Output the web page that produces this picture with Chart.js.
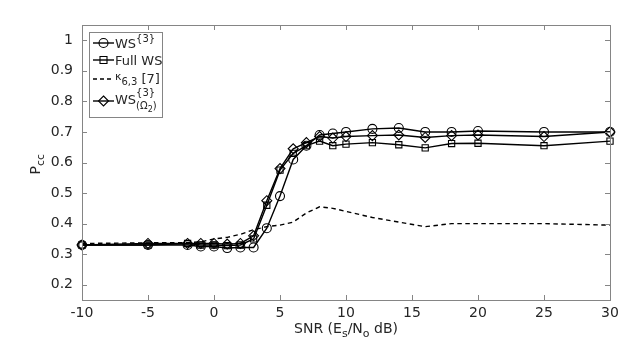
<!DOCTYPE html>
<html>
<head>
<meta charset="utf-8">
<script src="https://cdn.jsdelivr.net/npm/chart.js@4"></script>
<style>html,body{margin:0;background:#fff;}</style>
</head>
<body>
<canvas id="chart" width="638" height="344"></canvas>
<script>
const snr = [-10, -5, -2, -1, 0, 1, 2, 3, 4, 5, 6, 7, 8, 9, 10, 12, 14, 16, 18, 20, 25, 30];
const ws3 = [0.330, 0.330, 0.330, 0.325, 0.325, 0.320, 0.322, 0.322, 0.385, 0.490, 0.610, 0.655, 0.690, 0.695, 0.700, 0.710, 0.713, 0.700, 0.700, 0.703, 0.700, 0.700];
const fullWs = [0.330, 0.330, 0.335, 0.330, 0.330, 0.328, 0.330, 0.350, 0.460, 0.575, 0.630, 0.655, 0.670, 0.655, 0.660, 0.665, 0.658, 0.648, 0.662, 0.663, 0.655, 0.670];
const kappa = [0.335, 0.337, 0.338, 0.340, 0.350, 0.355, 0.365, 0.380, 0.390, 0.395, 0.405, 0.435, 0.455, 0.450, 0.440, 0.420, 0.405, 0.390, 0.400, 0.400, 0.400, 0.395];
const wsOmega = [0.330, 0.335, 0.335, 0.335, 0.335, 0.333, 0.335, 0.360, 0.475, 0.580, 0.645, 0.665, 0.685, 0.680, 0.685, 0.688, 0.690, 0.682, 0.688, 0.690, 0.685, 0.700];

const xTicks = [-10, -5, 0, 5, 10, 15, 20, 25, 30];
const yTicks = [0.2, 0.3, 0.4, 0.5, 0.6, 0.7, 0.8, 0.9, 1];

const FONT = '"DejaVu Sans", sans-serif';
const TXT = '#262626';
const AXIS = '#858585';

const pts = vals => vals.map((v, i) => ({ x: snr[i], y: v }));

function series(data, style) {
  return Object.assign({
    data: pts(data),
    borderColor: '#000',
    borderWidth: 1.4,
    backgroundColor: 'rgba(0,0,0,0)',
    pointBorderColor: '#000',
    pointBorderWidth: 1.1,
    pointBackgroundColor: 'rgba(0,0,0,0)',
    tension: 0,
    clip: false
  }, style);
}

// draws text pieces with sizes and vertical offsets, returns end x
function rich(ctx, x, y, parts) {
  ctx.textBaseline = 'alphabetic';
  ctx.textAlign = 'left';
  let start = x;
  for (const p of parts) {
    if (p.back) x = start;
    if (p.mark) start = x;
    ctx.font = (p.s || 13) + 'px ' + FONT;
    ctx.fillText(p.t, x, y + (p.dy || 0));
    x += ctx.measureText(p.t).width;
  }
  return x;
}

function marker(ctx, type, x, y) {
  ctx.beginPath();
  if (type === 'circle') ctx.arc(x, y, 4.5, 0, Math.PI * 2);
  if (type === 'rect') ctx.rect(x - 3.5, y - 3.5, 7, 7);
  if (type === 'rectRot') {
    ctx.moveTo(x, y - 5); ctx.lineTo(x + 5, y); ctx.lineTo(x, y + 5); ctx.lineTo(x - 5, y); ctx.closePath();
  }
  ctx.stroke();
}

const frame = {
  id: 'frame',
  afterDraw(chart) {
    const { ctx, chartArea: a, scales } = chart;
    ctx.save();
    // box and inward ticks
    ctx.strokeStyle = AXIS;
    ctx.lineWidth = 1;
    ctx.strokeRect(Math.round(a.left) + 0.5, Math.round(a.top) + 0.5, Math.round(a.right - a.left), Math.round(a.bottom - a.top));
    ctx.beginPath();
    for (const v of xTicks) {
      const px = Math.round(scales.x.getPixelForValue(v)) + 0.5;
      ctx.moveTo(px, a.bottom); ctx.lineTo(px, a.bottom - 5);
      ctx.moveTo(px, a.top); ctx.lineTo(px, a.top + 5);
    }
    for (const v of yTicks) {
      const py = Math.round(scales.y.getPixelForValue(v)) + 0.5;
      ctx.moveTo(a.left, py); ctx.lineTo(a.left + 5, py);
      ctx.moveTo(a.right, py); ctx.lineTo(a.right - 5, py);
    }
    ctx.stroke();

    // axis titles
    ctx.fillStyle = TXT;
    const xt = [{ t: 'SNR (E', s: 14 }, { t: 's', s: 11, dy: 4 }, { t: '/N', s: 14 }, { t: 'o', s: 11, dy: 4 }, { t: ' dB)', s: 14 }];
    let w = 0;
    for (const p of xt) { ctx.font = p.s + 'px ' + FONT; w += ctx.measureText(p.t).width; }
    rich(ctx, (a.left + a.right) / 2 - w / 2, 333, xt);
    ctx.save();
    ctx.translate(40, (a.top + a.bottom) / 2);
    ctx.rotate(-Math.PI / 2);
    rich(ctx, -12, 0, [{ t: 'P', s: 14 }, { t: 'cc', s: 11, dy: 4 }]);
    ctx.restore();

    // legend
    const lx = 89, ly = 32, lw = 73, lh = 85;
    ctx.fillStyle = '#fff';
    ctx.fillRect(lx, ly, lw, lh);
    ctx.strokeStyle = AXIS;
    ctx.strokeRect(lx + 0.5, ly + 0.5, lw, lh);
    const rows = [
      { y: 43, type: 'circle', parts: [{ t: 'WS', dy: 5 }, { t: '{3}', s: 10, dy: -1 }] },
      { y: 60, type: 'rect', parts: [{ t: 'Full WS', dy: 5 }] },
      { y: 79, type: 'dash', parts: [{ t: 'κ', s: 11, dy: 1 }, { t: '6,3', s: 10, dy: 6 }, { t: ' [7]', dy: 4 }] },
      { y: 101, type: 'rectRot', parts: [{ t: 'WS', dy: 3 }, { t: '{3}', s: 10, dy: -5, mark: true }, { t: '(Ω', s: 10, dy: 8, back: true }, { t: '2', s: 8, dy: 11 }, { t: ')', s: 10, dy: 8 }] }
    ];
    for (const r of rows) {
      ctx.strokeStyle = '#000';
      ctx.lineWidth = 1.4;
      ctx.beginPath();
      if (r.type === 'dash') ctx.setLineDash([4, 3]);
      ctx.moveTo(93, r.y); ctx.lineTo(114, r.y);
      ctx.stroke();
      ctx.setLineDash([]);
      ctx.lineWidth = 1.1;
      if (r.type !== 'dash') marker(ctx, r.type, 103.5, r.y);
      ctx.fillStyle = TXT;
      rich(ctx, 115, r.y, r.parts);
    }
    ctx.restore();
  }
};

new Chart(document.getElementById('chart'), {
  type: 'line',
  data: {
    datasets: [
      series(ws3, { label: 'WS{3}', pointStyle: 'circle', pointRadius: 4.5 }),
      series(fullWs, { label: 'Full WS', pointStyle: 'rect', pointRadius: 4.4 }),
      series(kappa, { label: 'κ6,3 [7]', pointRadius: 0, borderDash: [4.5, 3.5] }),
      series(wsOmega, { label: 'WS{3}(Ω2)', pointStyle: 'rectRot', pointRadius: 5 })
    ]
  },
  options: {
    responsive: false,
    animation: false,
    layout: { padding: { top: 25, right: 28, left: 0, bottom: 0 } },
    plugins: { legend: { display: false }, tooltip: { enabled: false } },
    scales: {
      x: {
        type: 'linear',
        min: -10,
        max: 30,
        grid: { display: false, drawTicks: false },
        border: { display: false },
        afterFit: s => { s.height = 44; },
        afterBuildTicks: s => { s.ticks = xTicks.map(v => ({ value: v })); },
        ticks: { color: TXT, font: { family: FONT, size: 14 }, padding: 5, maxRotation: 0, callback: v => String(v) }
      },
      y: {
        min: 0.15,
        max: 1.05,
        grid: { display: false, drawTicks: false },
        border: { display: false },
        afterFit: s => { s.width = 82; },
        afterBuildTicks: s => { s.ticks = yTicks.map(v => ({ value: v })); },
        ticks: { color: TXT, font: { family: FONT, size: 14 }, padding: 9, callback: v => String(Number(v.toFixed(2))) }
      }
    }
  },
  plugins: [frame]
});
</script>
</body>
</html>
